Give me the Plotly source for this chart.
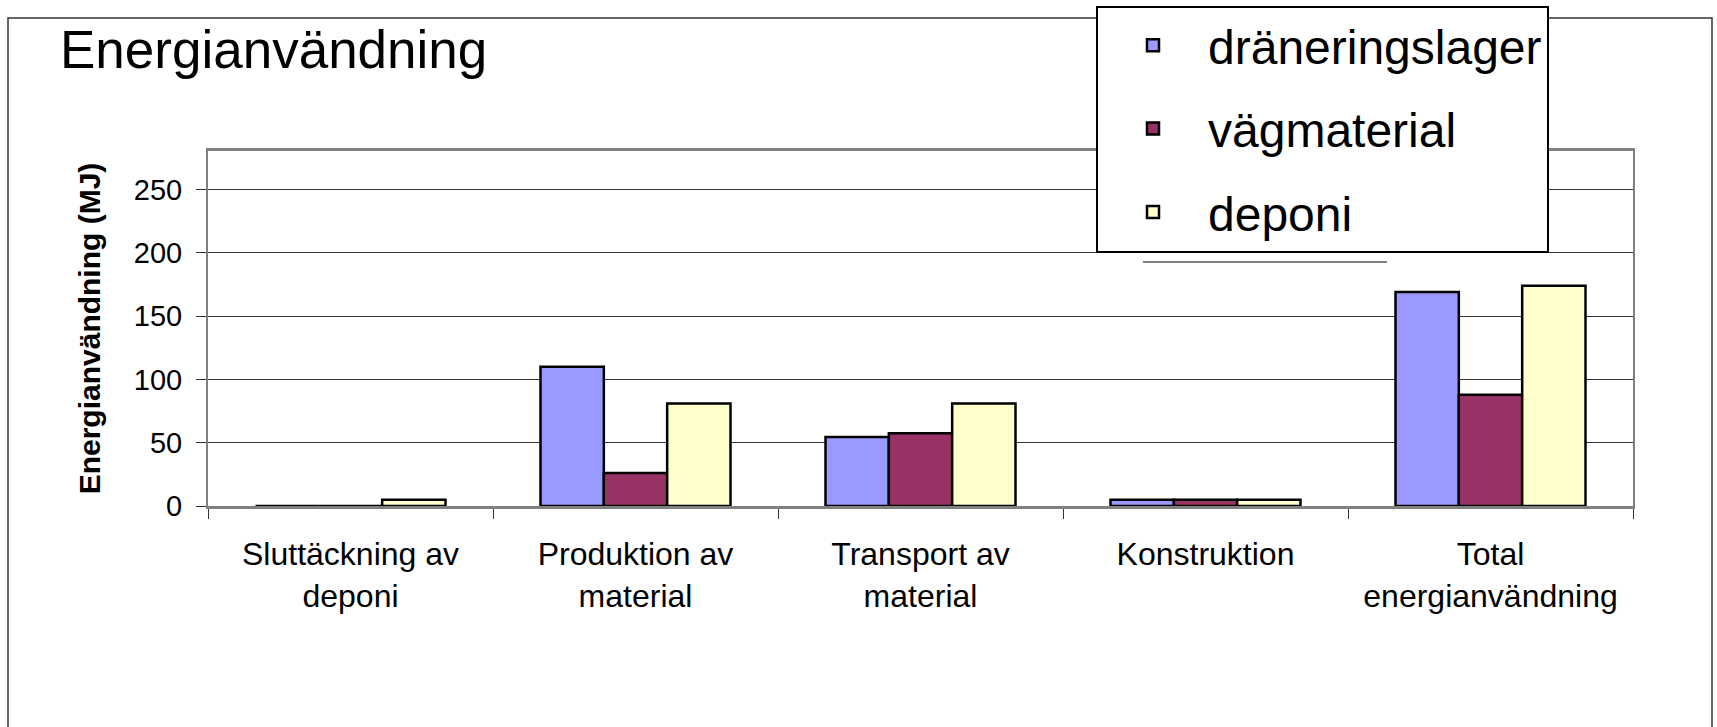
import plotly.graph_objects as go

categories = ["Sluttäckning av<br>deponi", "Produktion av<br>material", "Transport av<br>material",
              "Konstruktion", "Total<br>energianvändning"]
series_names = ["dräneringslager", "vägmaterial", "deponi"]
draneringslager = [0, 110, 54.5, 5, 169]
vagmaterial = [0, 26, 57.5, 5, 88]
deponi = [5, 81, 81, 5, 174]
y_ticks = [0, 50, 100, 150, 200, 250]

colors = ["#9999FF", "#993366", "#FFFFCC"]
FONT = "Liberation Sans, Arial, sans-serif"

W, H = 1717, 727
L, R, T, B = 208, 84, 151, 221
pw, ph = W - L - R, H - T - B

def px_x(x):
    return (x - L) / pw

def px_y(y):
    return (H - B - y) / ph

fig = go.Figure()
for i, (name, vals) in enumerate(zip(series_names, [draneringslager, vagmaterial, deponi])):
    fig.add_trace(go.Bar(
        x=categories, y=vals, name=name, legendgroup=name,
        marker=dict(color=colors[i], line=dict(color="black", width=2.5)),
    ))

fig.update_layout(
    width=W, height=H,
    margin=dict(l=L, r=R, t=T, b=B, autoexpand=False),
    paper_bgcolor="white", plot_bgcolor="white",
    barmode="group", bargap=1.5 / 4.5, bargroupgap=0,
    font=dict(family=FONT, color="black"),
    title=dict(text="Energianvändning", x=60 / W, xanchor="left", xref="container",
               y=1 - 49 / H, yanchor="middle", yref="container",
               font=dict(family=FONT, size=53, color="black")),
    showlegend=True,
    legend=dict(x=px_x(1096), y=px_y(5.5), xanchor="left", yanchor="top",
                bgcolor="white", bordercolor="black", borderwidth=2,
                font=dict(family=FONT, size=48, color="black"),
                itemwidth=100, tracegroupgap=18, traceorder="grouped"),
    xaxis=dict(
        showline=True, linecolor="#808080", linewidth=3, mirror=True, layer="above traces",
        ticks="outside", tickson="boundaries", ticklen=10, tickcolor="#333", tickwidth=1,
        tickfont=dict(family=FONT, size=32, color="black"),
        ticklabelstandoff=18,
        showgrid=False,
    ),
    yaxis=dict(
        range=[0, 280.5], tickvals=y_ticks,
        showline=True, linecolor="#808080", linewidth=2, mirror=True,
        ticks="outside", ticklen=10, tickcolor="#333", tickwidth=1,
        tickfont=dict(family=FONT, size=29, color="black"),
        ticklabelstandoff=8,
        showgrid=True, gridcolor="#333", gridwidth=1, zeroline=False,
        title=dict(text="<b>Energianvändning (MJ)</b>", standoff=24,
                   font=dict(family=FONT, size=30, color="black")),
    ),
    shapes=[
        dict(type="rect", xref="paper", yref="paper",
             x0=px_x(8), x1=px_x(1712), y0=px_y(760), y1=px_y(18),
             line=dict(color="#333", width=1.5), fillcolor="rgba(0,0,0,0)", layer="above"),
        dict(type="line", xref="paper", yref="paper",
             x0=px_x(1143), x1=px_x(1387), y0=px_y(262), y1=px_y(262),
             line=dict(color="black", width=1), layer="above"),
    ],
)

fig.write_html("out.html")
